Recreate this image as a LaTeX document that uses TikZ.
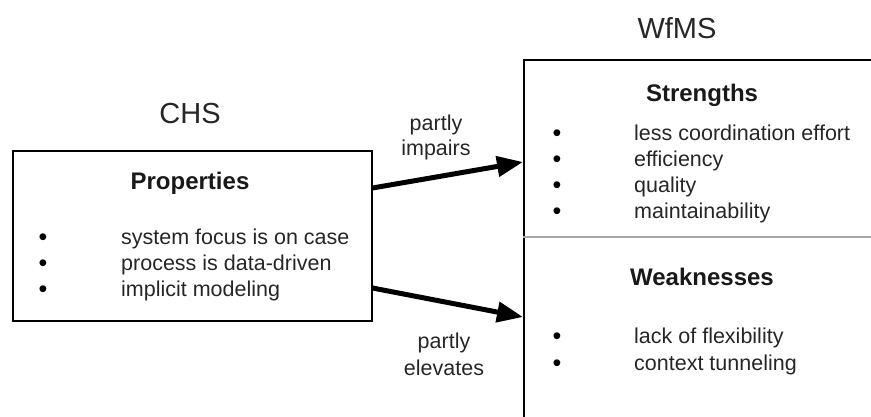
\documentclass[tikz,border=0pt]{standalone}
\usepackage{fontspec}
\setmainfont{Liberation Sans}
\usetikzlibrary{arrows.meta,calc}
\begin{document}
\begin{tikzpicture}[x=1pt,y=-1pt,
  box/.style={draw=black, line width=1.5pt, inner sep=0pt, rectangle},
  titletext/.style={font=\fontsize{29}{34}\selectfont, anchor=base, inner sep=0pt, text=black!85},
  headtext/.style={font=\bfseries\fontsize{24}{28}\selectfont, anchor=base, inner sep=0pt, text=black!90},
  itemtext/.style={font=\fontsize{21.5}{26}\selectfont, anchor=base west, inner sep=0pt, text=black!85},
  bullettext/.style={font=\fontsize{25}{26}\selectfont, anchor=base, inner sep=0pt},
  lbltext/.style={font=\fontsize{21.5}{26}\selectfont, anchor=base, inner sep=0pt, text=black!85},
  conn/.style={line width=5pt, -{Triangle[length=26pt,width=20pt]}},
  divider/.style={draw=gray!70, line width=1.5pt}]
\useasboundingbox (0,0) rectangle (871,416);
\clip (0,0) rectangle (871,416);

% boxes
\node[box, anchor=north west, minimum width=359pt, minimum height=170pt] (chs) at (12,150) {};
\node[box, anchor=north west, minimum width=360pt, minimum height=370pt] (wfms) at (523,59) {};
\draw[divider] ($(wfms.north west)+(0,178)$) -- ($(wfms.north east)+(0,178)$);

% titles
\node[titletext] (chsT) at (190,123) {CHS};
\node[titletext] (wfmsT) at (677,38) {WfMS};

% left box content
\node[headtext] (propH) at (190,189) {Properties};
\node[bullettext] (pb1) at (43,245) {•};
\node[bullettext] (pb2) at (43,271) {•};
\node[bullettext] (pb3) at (43,297) {•};
\node[itemtext] (p1) at (121,244) {system focus is on case};
\node[itemtext] (p2) at (121,270) {process is data-driven};
\node[itemtext] (p3) at (121,296) {implicit modeling};

% strengths
\node[headtext] (strH) at (702,101) {Strengths};
\node[bullettext] (sb1) at (557,141) {•};
\node[bullettext] (sb2) at (557,167) {•};
\node[bullettext] (sb3) at (557,193) {•};
\node[bullettext] (sb4) at (557,219) {•};
\node[itemtext] (s1) at (634,140) {less coordination effort};
\node[itemtext] (s2) at (634,166) {efficiency};
\node[itemtext] (s3) at (634,192) {quality};
\node[itemtext] (s4) at (634,218) {maintainability};

% weaknesses
\node[headtext] (weakH) at (702,285) {Weaknesses};
\node[bullettext] (wb1) at (557,344) {•};
\node[bullettext] (wb2) at (557,371) {•};
\node[itemtext] (w1) at (634,343) {lack of flexibility};
\node[itemtext] (w2) at (634,370) {context tunneling};

% arrow labels
\node[lbltext] (l1a) at (436,130) {partly};
\node[lbltext] (l1b) at (436,155) {impairs};
\node[lbltext] (l2a) at (444,348) {partly};
\node[lbltext] (l2b) at (444,375) {elevates};

% connectors
\coordinate (a1s) at ($(chs.north east)+(0,38)$);
\coordinate (a1e) at ($(wfms.north west)+(0,103)$);
\coordinate (a2s) at ($(chs.north east)+(0,138)$);
\coordinate (a2e) at ($(wfms.north west)+(0,258)$);
\draw[conn] (a1s) -- (a1e);
\draw[conn] (a2s) -- (a2e);
\end{tikzpicture}
\end{document}
